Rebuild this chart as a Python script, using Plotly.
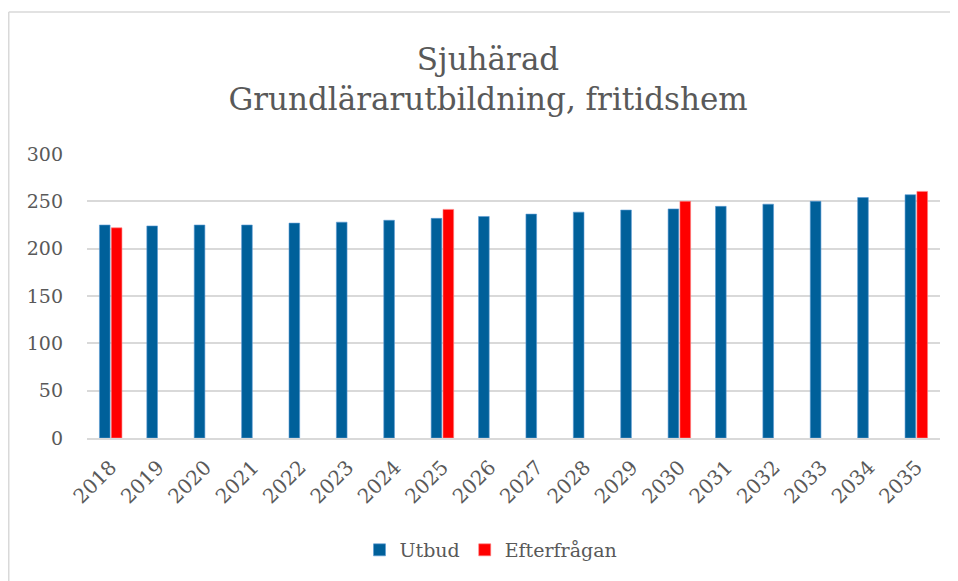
import plotly.graph_objects as go

years = [str(y) for y in range(2018, 2036)]
utbud = [225, 224, 225, 225, 227, 228, 230, 232, 234, 236.5, 238.6, 240.8, 242, 244.7, 247, 250, 254, 257]
efterfragan = [222, None, None, None, None, None, None, 241.5, None, None, None, None, 250, None, None, None, None, 260.5]

FONT = "DejaVu Serif, Liberation Serif, serif"
GRAY = "#595959"

W, H = 958, 581
L, R, T, B = 79, 26, 146, 151
PW, PH = W - L - R, H - T - B

fig = go.Figure()
fig.add_trace(go.Bar(x=years, y=utbud, name="Utbud", marker_color="#00609A",
                     marker_line=dict(color="#5b9bd5", width=0.6)))
fig.add_trace(go.Bar(x=years, y=efterfragan, name="Efterfrågan", marker_color="#FF0000",
                     marker_line=dict(color="#ff8080", width=0.6)))

fig.update_layout(
    width=W, height=H,
    barmode="group", bargap=0.5, bargroupgap=0.1,
    paper_bgcolor="white", plot_bgcolor="white",
    margin=dict(l=L, r=R, t=T, b=B),
    font=dict(family=FONT, color=GRAY, size=19),
    title=dict(text="Sjuhärad<br>Grundlärarutbildning, fritidshem",
               x=(488 - 8) / W, xanchor="center", y=1 - 62 / H, yanchor="top",
               font=dict(family=FONT, size=31, color=GRAY)),
    legend=dict(orientation="h", x=(491 - 8 - L) / PW, xanchor="center",
                y=-(550 - 8 - T - PH) / PH, yanchor="middle",
                font=dict(family=FONT, size=19, color=GRAY), itemwidth=30),
    showlegend=True,
)
fig.update_xaxes(tickangle=-45, showline=True, linecolor="#d9d9d9", linewidth=1.5,
                 ticks="", ticklabelstandoff=8,
                 tickfont=dict(size=20, color=GRAY, family=FONT))
fig.update_yaxes(range=[0, 300], dtick=50, showgrid=True, gridcolor="#d9d9d9", gridwidth=1.5,
                 zeroline=False, ticks="", ticklabelstandoff=23,
                 tickfont=dict(size=19, color=GRAY, family=FONT))

# chart-area border (left and top edges visible)
xl = (0.75 - L) / PW
yt = 1 + (T - 4) / PH
fig.add_shape(type="line", xref="paper", yref="paper", x0=xl, x1=xl, y0=-(B + 20) / PH, y1=yt,
              line=dict(color="#d9d9d9", width=1.5))
fig.add_shape(type="line", xref="paper", yref="paper", x0=xl, x1=(W - L + 10) / PW, y0=yt, y1=yt,
              line=dict(color="#d9d9d9", width=1.5))

fig.write_html("out.html")
